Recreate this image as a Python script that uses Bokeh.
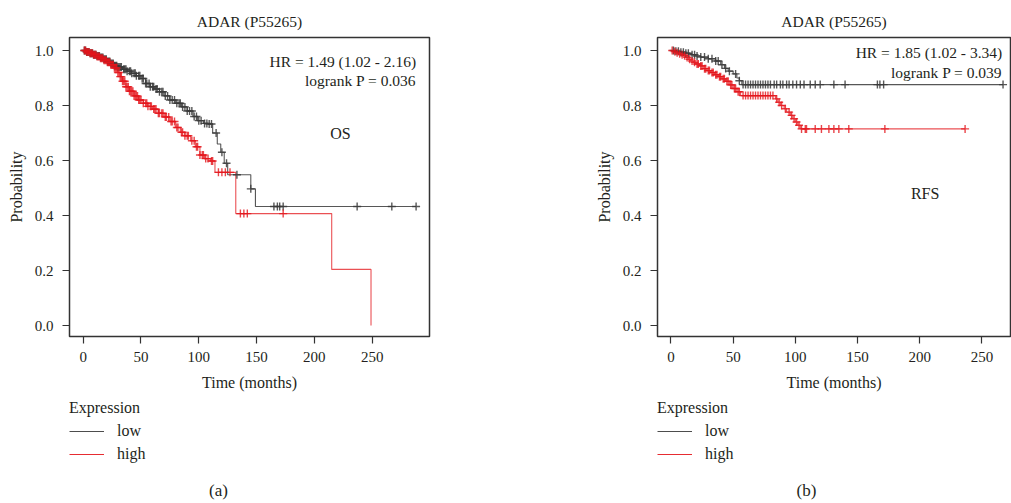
import numpy as np
from bokeh.plotting import figure
from bokeh.layouts import row, column
from bokeh.models import Label, Legend, LegendItem, Range1d, FixedTicker, NumeralTickFormatter, Title
from bokeh.embed import file_html
from bokeh.resources import INLINE

FONT = "Liberation Serif"
TXT = "#231f20"
LOW_COLOR = "#3a3a3a"
HIGH_COLOR = "#e3151b"

title_text = "ADAR (P55265)"
x_ticks = [0, 50, 100, 150, 200, 250]
y_ticks = [0.0, 0.2, 0.4, 0.6, 0.8, 1.0]
groups = ["low", "high"]

# ---------------- (a) OS ----------------
os_low_t = [0, 3, 6, 9, 12, 15, 18, 21, 24, 27, 30, 34, 38, 42, 46, 50, 54, 58, 62, 66, 70, 75, 80,
            85, 90, 95, 99, 104, 108, 112, 116, 119, 122, 125, 145, 149, 288]
os_low_s = [1.0, 0.995, 0.99, 0.985, 0.98, 0.975, 0.968, 0.96, 0.953, 0.945, 0.94, 0.932, 0.925,
            0.917, 0.908, 0.898, 0.88, 0.868, 0.86, 0.85, 0.835, 0.82, 0.808, 0.795, 0.78, 0.76,
            0.745, 0.735, 0.733, 0.70, 0.66, 0.63, 0.59, 0.548, 0.497, 0.433, 0.433]
os_low_cens = [1, 2, 3, 4, 5, 6, 7, 8, 9, 10, 11, 12, 13, 14, 15, 16, 17, 18, 19, 20, 21, 22, 23, 24,
               25, 26, 27, 28, 29, 30, 31, 32, 33, 35, 36, 37, 38, 40, 41, 42, 44, 45, 46, 48, 49,
               51, 52, 54, 55, 57, 58, 60, 61, 63, 64, 66, 68, 69, 71, 73, 75, 77, 79, 81, 83, 84,
               86, 88, 90, 92, 94, 96, 98, 100, 102, 105, 107, 109, 111, 115, 120, 124, 133, 145,
               165, 168, 170, 173, 237, 267, 288]

os_high_t = [0, 3, 6, 9, 12, 15, 18, 21, 24, 27, 30, 32, 34, 37, 40, 44, 48, 52, 56, 60, 65, 70, 75,
             80, 84, 88, 93, 97, 101, 105, 110, 114, 132, 215, 249]
os_high_s = [1.0, 0.995, 0.99, 0.985, 0.978, 0.972, 0.965, 0.957, 0.948, 0.937, 0.92, 0.905, 0.888,
             0.868, 0.852, 0.835, 0.82, 0.808, 0.797, 0.787, 0.772, 0.758, 0.742, 0.72, 0.703, 0.69,
             0.672, 0.65, 0.62, 0.607, 0.598, 0.557, 0.407, 0.204, 0.0]
os_high_cens = [1, 2, 3, 4, 5, 6, 7, 8, 9, 10, 11, 12, 13, 14, 15, 16, 17, 18, 19, 20, 21, 22, 23, 24,
                25, 26, 27, 28, 29, 30, 31, 32, 33, 34, 35, 36, 37, 38, 39, 40, 41, 42, 43, 44, 45,
                46, 47, 48, 49, 50, 52, 54, 55, 56, 58, 59, 61, 62, 63, 65, 66, 68, 69, 71, 72, 74,
                76, 77, 79, 81, 82, 85, 86, 88, 90, 91, 94, 96, 98, 99, 101, 103, 104, 106, 108,
                111, 112, 117, 120, 123, 127, 136, 139, 142, 173]

# ---------------- (b) RFS ----------------
rfs_low_t = [0, 4, 8, 12, 16, 20, 24, 30, 36, 40, 43, 46, 50, 53, 55, 57, 267]
rfs_low_s = [1.0, 0.997, 0.994, 0.99, 0.985, 0.98, 0.976, 0.97, 0.962, 0.948, 0.935, 0.925, 0.915,
             0.9, 0.89, 0.876, 0.876]
rfs_low_cens = [2, 4, 6, 8, 10, 12, 14, 17, 19, 21, 24, 27, 30, 33, 36, 38, 41, 44, 47, 52, 55, 58,
                60, 62, 64, 66, 68, 70, 72, 74, 76, 78, 80, 83, 85, 88, 90, 93, 95, 98, 101, 104,
                107, 112, 116, 120, 131, 140, 166, 168, 171, 267]

rfs_high_t = [0, 2, 4, 6, 8, 10, 12, 14, 16, 18, 20, 23, 26, 29, 32, 35, 38, 41, 44, 47, 50, 53, 56,
              84, 86, 88, 91, 93, 96, 98, 100, 102, 104, 236.5]
rfs_high_s = [1.0, 0.996, 0.992, 0.988, 0.985, 0.981, 0.975, 0.968, 0.962, 0.957, 0.951, 0.944,
              0.934, 0.927, 0.92, 0.912, 0.905, 0.897, 0.888, 0.875, 0.862, 0.85, 0.836, 0.824,
              0.812, 0.80, 0.788, 0.776, 0.764, 0.752, 0.74, 0.728, 0.715, 0.715]
rfs_high_cens = [1, 3, 5, 7, 9, 11, 13, 15, 17, 19, 21, 22, 24, 25, 27, 28, 30, 31, 33, 34, 36, 37,
                 39, 40, 42, 43, 45, 46, 48, 49, 51, 52, 54, 55, 58, 60, 62, 64, 66, 68, 70, 72, 74,
                 76, 78, 80, 82, 85, 87, 89, 92, 95, 97, 99, 101, 103, 105, 108, 109, 116, 121, 127,
                 131, 135, 143, 172, 236.5]

MAIN_H = 397
LEG_H = 503 - MAIN_H


def step_value(ts, ss, c):
    ts = np.asarray(ts, dtype=float)
    ss = np.asarray(ss, dtype=float)
    idx = np.searchsorted(ts, np.asarray(c, dtype=float), side="right") - 1
    return ss[np.clip(idx, 0, len(ss) - 1)]


def km_panel(width, b_left, b_right, x_start, x_end,
             low_t, low_s, low_c, high_t, high_s, high_c,
             hr_text, p_text, text_x, hr_y, p_y, endp, endp_x, endp_y,
             title_off, cap_text, cap_x):
    frame_w = width - b_left - b_right
    p = figure(width=width, height=MAIN_H, output_backend="svg", toolbar_location=None,
               x_range=Range1d(x_start, x_end), y_range=Range1d(-0.04, 1.0473),
               min_border_left=b_left, min_border_right=b_right,
               min_border_top=37, min_border_bottom=MAIN_H - 37 - 299)
    p.grid.visible = False
    p.outline_line_color = "#333333"
    p.outline_line_width = 1.5
    p.background_fill_color = "white"
    p.border_fill_color = "white"

    for ax in (p.xaxis[0], p.yaxis[0]):
        ax.axis_line_color = None
        ax.major_tick_in = 0
        ax.major_tick_out = 7
        ax.major_tick_line_color = "#333333"
        ax.major_tick_line_width = 1.2
        ax.minor_tick_line_color = None
        ax.major_label_text_font = FONT
        ax.major_label_text_font_size = "15px"
        ax.major_label_text_color = TXT
        ax.axis_label_text_font = FONT
        ax.axis_label_text_font_size = "16px"
        ax.axis_label_text_font_style = "normal"
        ax.axis_label_text_color = TXT
    p.xaxis.ticker = FixedTicker(ticks=x_ticks)
    p.yaxis.ticker = FixedTicker(ticks=y_ticks)
    p.yaxis.formatter = NumeralTickFormatter(format="0.0")
    p.xaxis.axis_label = "Time (months)"
    p.yaxis.axis_label = "Probability"
    p.xaxis.major_label_standoff = 8
    p.xaxis.axis_label_standoff = 9
    p.yaxis.major_label_standoff = 9
    p.yaxis.axis_label_standoff = 7

    p.step(low_t, low_s, mode="after", line_color=LOW_COLOR, line_width=1.1, line_alpha=0.85)
    p.step(high_t, high_s, mode="after", line_color=HIGH_COLOR, line_width=1.1, line_alpha=0.75)
    p.scatter(low_c, step_value(low_t, low_s, low_c), marker="cross", size=8,
              line_color=LOW_COLOR, line_width=1.4, line_alpha=0.85)
    p.scatter(high_c, step_value(high_t, high_s, high_c), marker="cross", size=8,
              line_color=HIGH_COLOR, line_width=1.4, line_alpha=0.8)

    def lab(fig, x, y, text, align="left", size="16px"):
        fig.add_layout(Label(x=x, y=y, text=text, text_align=align, text_baseline="middle",
                             text_font=FONT, text_font_size=size, text_color=TXT))

    lab(p, text_x, hr_y, hr_text, "right", "15.5px")
    lab(p, text_x, p_y, p_text, "right", "15.5px")
    lab(p, endp_x, endp_y, endp, "center", "16px")

    p.add_layout(Title(text=title_text, align="center", offset=title_off, standoff=15,
                       text_font=FONT, text_font_size="15.5px", text_font_style="normal",
                       text_color=TXT), "above")

    # legend + caption strip; its frame lines up with the plot frame above it
    q = figure(width=width, height=LEG_H, output_backend="svg", toolbar_location=None,
               x_range=Range1d(0, frame_w), y_range=Range1d(0, LEG_H),
               x_axis_location=None, y_axis_location=None,
               min_border_left=b_left, min_border_right=b_right, min_border_top=0, min_border_bottom=0)
    q.grid.visible = False
    q.outline_line_color = None
    q.background_fill_color = "white"
    q.border_fill_color = "white"
    r_low = q.line(x=[np.nan], y=[np.nan], line_color=LOW_COLOR, line_width=1.1, line_alpha=0.9)
    r_high = q.line(x=[np.nan], y=[np.nan], line_color=HIGH_COLOR, line_width=1.1, line_alpha=0.9)
    legend = Legend(items=[LegendItem(label=groups[0], renderers=[r_low]),
                           LegendItem(label=groups[1], renderers=[r_high])],
                    title="Expression", location=(0, 39), orientation="vertical")
    legend.border_line_color = None
    legend.background_fill_alpha = 0
    legend.padding = 0
    legend.margin = 0
    legend.spacing = 3
    legend.glyph_width = 35
    legend.glyph_height = 20
    legend.label_height = 20
    legend.label_standoff = 13
    legend.label_text_font = FONT
    legend.label_text_font_size = "16px"
    legend.label_text_color = TXT
    legend.title_text_font = FONT
    legend.title_text_font_size = "16px"
    legend.title_text_font_style = "normal"
    legend.title_text_color = TXT
    legend.title_standoff = 4
    q.add_layout(legend)
    lab(q, cap_x, 13, cap_text, "center", "17px")
    return column(p, q, spacing=0)


c1 = km_panel(590, 69, 161, -11.85, 299.6,
              os_low_t, os_low_s, os_low_cens, os_high_t, os_high_s, os_high_cens,
              "HR = 1.49 (1.02 - 2.16)", "logrank P = 0.036", 288, 0.96, 0.891,
              "OS", 222.6, 0.698, -1, "(a)", 149)
c2 = km_panel(421, 67, 1, -10.8, 273.0,
              rfs_low_t, rfs_low_s, rfs_low_cens, rfs_high_t, rfs_high_s, rfs_high_cens,
              "HR = 1.85 (1.02 - 3.34)", "logrank P = 0.039", 266.3, 0.993, 0.92,
              "RFS", 204.4, 0.48, 3, "(b)", 149)

layout = row(c1, c2, spacing=0)
open("out.html", "w").write(file_html(layout, INLINE))
